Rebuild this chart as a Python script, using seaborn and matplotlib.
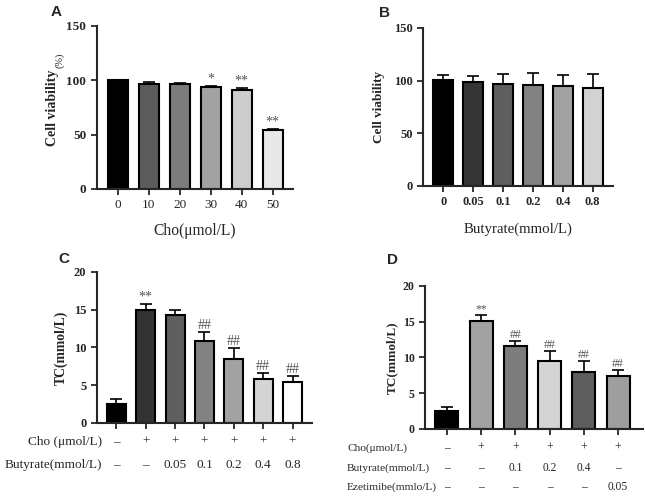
import numpy as np
import pandas as pd
import matplotlib
matplotlib.use("Agg")
import matplotlib.pyplot as plt
import matplotlib.transforms as mtransforms
import seaborn as sns

# ---------------- data ----------------
a_labels = ["0", "10", "20", "30", "40", "50"]
a_values = [100, 96.5, 96.5, 93.5, 91, 54]
a_errors = [0.6, 1.5, 1.2, 1.5, 1.8, 1.3]
a_marks = ["", "", "", "*", "**", "**"]

b_labels = ["0", "0.05", "0.1", "0.2", "0.4", "0.8"]
b_values = [100.4, 98.5, 96.6, 96.0, 95.0, 93.0]
b_errors = [5.2, 6.0, 9.2, 11.4, 10.2, 13.1]

c_groups = ["c0", "c1", "c2", "c3", "c4", "c5", "c6"]
c_values = [2.5, 15.0, 14.3, 10.8, 8.5, 5.85, 5.4]
c_errors = [0.7, 0.8, 0.6, 1.2, 1.4, 0.75, 0.8]
c_marks = ["", "**", "", "##", "##", "##", "##"]
c_cho = ["–", "+", "+", "+", "+", "+", "+"]
c_but = ["–", "–", "0.05", "0.1", "0.2", "0.4", "0.8"]

d_groups = ["d0", "d1", "d2", "d3", "d4", "d5"]
d_values = [2.45, 15.05, 11.65, 9.45, 7.9, 7.45]
d_errors = [0.65, 0.8, 0.65, 1.45, 1.6, 0.75]
d_marks = ["", "**", "##", "##", "##", "##"]
d_cho = ["–", "+", "+", "+", "+", "+"]
d_but = ["–", "–", "0.1", "0.2", "0.4", "–"]
d_eze = ["–", "–", "–", "–", "–", "0.05"]

a_colors = ["#000000", "#5c5c5c", "#7c7c7c", "#a2a2a2", "#cdcdcd", "#e8e8e8"]
b_colors = ["#000000", "#353535", "#5e5e5e", "#828282", "#a2a2a2", "#d2d2d2"]
c_colors = ["#000000", "#333333", "#5e5e5e", "#828282", "#a2a2a2", "#d4d4d4", "#ffffff"]
d_colors = ["#000000", "#a2a2a2", "#7c7c7c", "#d4d4d4", "#5e5e5e", "#9e9e9e"]

# ---------------- style ----------------
sns.set_style("ticks")
plt.rcParams["font.family"] = ["Liberation Serif", "DejaVu Serif"]
plt.rcParams["axes.linewidth"] = 1.5
plt.rcParams["xtick.major.width"] = 1.3
plt.rcParams["ytick.major.width"] = 1.3
plt.rcParams["xtick.major.size"] = 4
plt.rcParams["ytick.major.size"] = 4

fig = plt.figure(figsize=(6.45, 4.97), dpi=100)

axA = fig.add_axes([0.150, 0.620, 0.304, 0.328])
axB = fig.add_axes([0.656, 0.626, 0.294, 0.318])
axC = fig.add_axes([0.150, 0.149, 0.334, 0.304])
axD = fig.add_axes([0.659, 0.137, 0.338, 0.288])


def draw(ax, cats, vals, errs, colors, width, xlim, ylim, yticks, marks=None,
         mark_size=10, tick_size=9.5):
    df = pd.DataFrame({"cat": cats, "val": vals})
    sns.barplot(data=df, x="cat", y="val", hue="cat", order=cats, hue_order=cats,
                palette=colors, legend=False, errorbar=None, width=width,
                edgecolor="black", linewidth=1.5, ax=ax)
    n = len(cats)
    ax.errorbar(np.arange(n), vals, yerr=[np.zeros(n), errs], fmt="none",
                ecolor="black", elinewidth=1.2, capsize=4.5, capthick=1.2, zorder=1)
    if marks:
        for i, m in enumerate(marks):
            if m:
                ax.text(i, vals[i] + errs[i], m, ha="center", va="bottom",
                        fontsize=mark_size, color="#555555")
    ax.set_xlim(*xlim)
    ax.set_ylim(*ylim)
    ax.set_yticks(yticks)
    ax.set_yticklabels([str(t) for t in yticks], fontweight="bold", fontsize=tick_size)
    sns.despine(ax=ax)
    ax.set_xlabel("")
    ax.set_ylabel("")


draw(axA, a_labels, a_values, a_errors, a_colors, 0.65, (-0.68, 5.65), (0, 150),
     [0, 50, 100, 150], a_marks, mark_size=10, tick_size=9.5)
axA.set_xticks(range(len(a_labels)))
axA.set_xticklabels(a_labels, fontsize=9.5)
axA.set_xlabel("Cho(μmol/L)", fontsize=11.2)
axA.xaxis.set_label_coords(0.5, -0.21)
axA.set_ylabel("Cell viability", fontsize=10, fontweight="bold")
axA.yaxis.set_label_coords(-0.19, 0.50)
axA.text(-0.19, 0.79, "(%)", transform=axA.transAxes, rotation=90,
         ha="center", va="center", fontsize=7.5)

draw(axB, b_labels, b_values, b_errors, b_colors, 0.67, (-0.67, 5.67), (0, 150),
     [0, 50, 100, 150], tick_size=9)
axB.set_xticks(range(len(b_labels)))
axB.set_xticklabels(b_labels, fontsize=9, fontweight="bold")
axB.set_xlabel("Butyrate(mmol/L)", fontsize=10.7)
axB.xaxis.set_label_coords(0.5, -0.23)
axB.set_ylabel("Cell viability", fontsize=9.5, fontweight="bold")
axB.yaxis.set_label_coords(-0.20, 0.5)

draw(axC, c_groups, c_values, c_errors, c_colors, 0.65, (-0.67, 6.67), (0, 20),
     [0, 5, 10, 15, 20], c_marks, mark_size=10, tick_size=9)
axC.set_xticks(range(len(c_groups)))
axC.set_xticklabels([])
axC.set_ylabel("TC(mmol/L)", fontsize=9.8, fontweight="bold")
axC.yaxis.set_label_coords(-0.135, 0.5)
transC = mtransforms.blended_transform_factory(axC.transData, axC.transAxes)
for i in range(len(c_groups)):
    axC.text(i, -0.126, c_cho[i], transform=transC, ha="center", va="center", fontsize=9.5)
    axC.text(i, -0.278, c_but[i], transform=transC, ha="center", va="center", fontsize=9.5)
axC.text(0.023, -0.126, "Cho (μmol/L)", transform=axC.transAxes, ha="right",
         va="center", fontsize=9.5)
axC.text(0.023, -0.278, "Butyrate(mmol/L)", transform=axC.transAxes, ha="right",
         va="center", fontsize=9.5)

draw(axD, d_groups, d_values, d_errors, d_colors, 0.67, (-0.64, 5.73), (0, 20),
     [0, 5, 10, 15, 20], d_marks, mark_size=8.5, tick_size=8.5)
axD.set_xticks(range(len(d_groups)))
axD.set_xticklabels([])
axD.set_ylabel("TC(mmol/L)", fontsize=9.5, fontweight="bold")
axD.yaxis.set_label_coords(-0.124, 0.5)
transD = mtransforms.blended_transform_factory(axD.transData, axD.transAxes)
for i in range(len(d_groups)):
    axD.text(i, -0.133, d_cho[i], transform=transD, ha="center", va="center", fontsize=8.3)
    axD.text(i, -0.273, d_but[i], transform=transD, ha="center", va="center", fontsize=8.3)
    axD.text(i, -0.406, d_eze[i], transform=transD, ha="center", va="center", fontsize=8.3)
for yy, lab in [(-0.133, "Cho(μmol/L)"), (-0.273, "Butyrate(mmol/L)"),
                (-0.406, "Ezetimibe(mmlo/L)")]:
    axD.text(-0.358, yy, lab, transform=axD.transAxes, ha="left", va="center", fontsize=8.2)

for lab, (px, py) in {"A": (56, 12), "B": (384, 13), "C": (64, 259), "D": (392, 260)}.items():
    fig.text(px / 645, 1 - py / 497, lab, ha="center", va="center", fontsize=11,
             fontweight="bold", family=["Liberation Sans", "DejaVu Sans"])

fig.savefig("out.png", dpi=100)
